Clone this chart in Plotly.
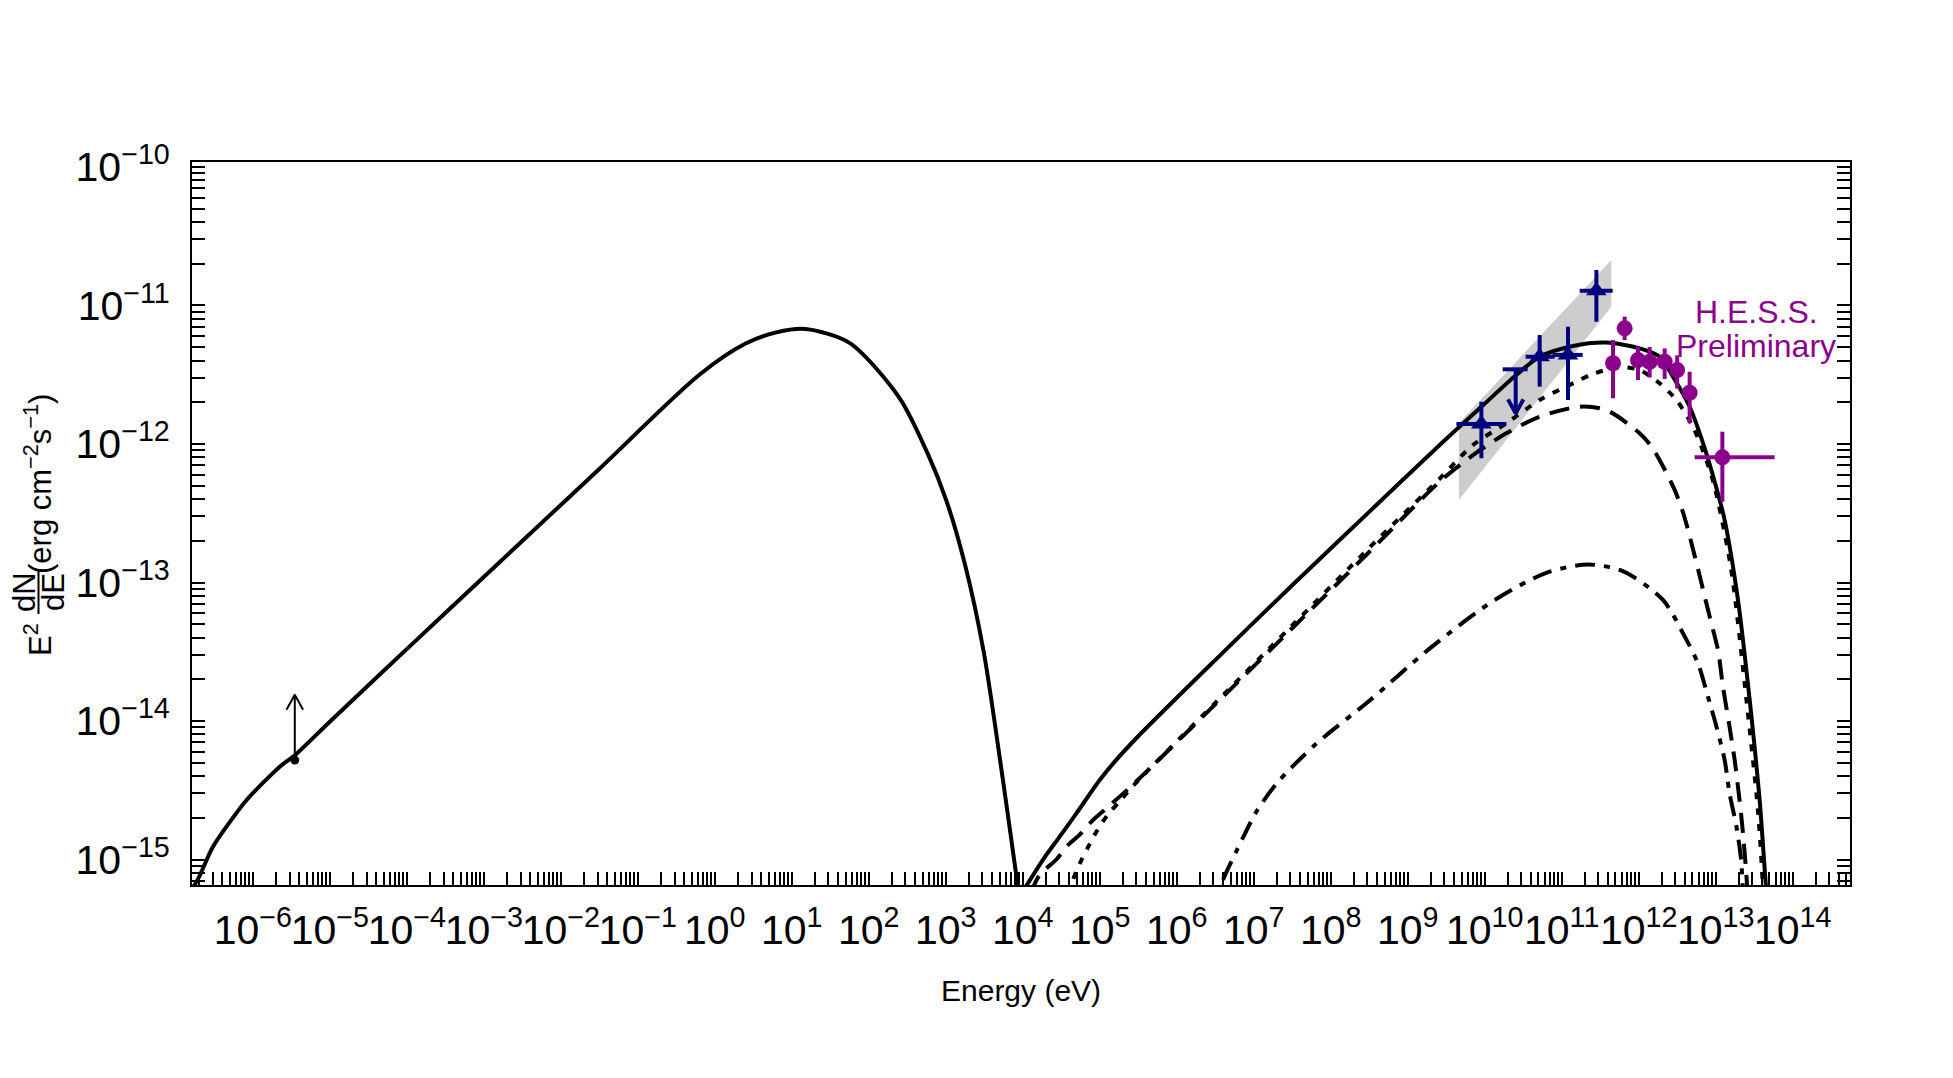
import plotly.graph_objects as go

# ---------------- data (log10 values) ----------------
# synchrotron model (solid)
sync_logE = [-6.85, -6.73, -6.52, -6.30, -6.08, -5.65, -5.45, -5.00, -4.40, -3.50,
             -2.50, -1.50, -0.20, 0.40, 0.80, 1.18, 1.75, 2.40, 2.766, 3.009, 3.25,
             3.493, 3.744, 3.94, 3.97]
sync_logF = [-15.25, -15.16, -14.91, -14.73, -14.57, -14.33, -14.245, -14.005, -13.69, -13.22,
             -12.70, -12.18, -11.50, -11.275, -11.194, -11.17, -11.27, -11.668, -12.07, -12.41,
             -12.87, -13.50, -14.43, -15.21, -15.33]

# inverse-Compton total (solid)
ic_logE = [3.98, 4.264, 4.48, 4.697, 5.00, 5.20, 5.50, 6.50, 7.50, 8.50, 9.416, 9.957,
           10.41, 10.714, 11.147, 11.58, 12.013, 12.273, 12.446, 12.662, 12.879, 13.052,
           13.117, 13.29, 13.442, 13.571, 13.65, 13.67]
ic_logF = [-15.25, -15.00, -14.835, -14.667, -14.426, -14.29, -14.11, -13.56, -13.02, -12.49,
           -12.007, -11.731, -11.502, -11.37, -11.292, -11.268, -11.31, -11.37, -11.514,
           -11.731, -12.067, -12.404, -12.549, -13.126, -13.848, -14.57, -15.17, -15.30]

# component (dashed)
dash_logE = [4.10, 4.22, 4.437, 4.567, 4.74, 4.913, 5.087, 5.43, 6.50, 7.50, 8.50, 9.416,
             9.848, 10.28, 10.714, 11.234, 11.58, 12.013, 12.18, 12.45, 12.58, 12.944,
             13.03, 13.095, 13.18, 13.247, 13.31, 13.355, 13.40, 13.42]
dash_logF = [-15.25, -15.11, -15.00, -14.907, -14.82, -14.715, -14.63, -14.46, -13.88, -13.33,
             -12.78, -12.272, -12.08, -11.923, -11.803, -11.731, -11.755, -11.923, -12.03,
             -12.31, -12.50, -13.295, -13.487, -13.752, -14.04, -14.282, -14.57, -14.81,
             -15.12, -15.30]

# component (dotted)
dot_logE = [4.60, 4.65, 4.74, 4.84, 4.957, 5.10, 5.26, 5.43, 6.50, 7.50, 8.50, 9.416, 9.848,
            10.281, 10.714, 11.147, 11.40, 11.753, 12.013, 12.273, 12.49, 12.705, 12.879,
            12.987, 13.20, 13.40, 13.55, 13.62]
dot_logF = [-15.25, -15.15, -15.03, -14.92, -14.80, -14.68, -14.58, -14.47, -13.87, -13.31,
            -12.75, -12.25, -12.007, -11.851, -11.682, -11.562, -11.495, -11.446, -11.466,
            -11.562, -11.682, -11.875, -12.116, -12.31, -12.90, -13.85, -14.65, -15.25]

# component (dash-dot)
dd_logE = [6.55, 6.60, 6.775, 6.88, 7.035, 7.30, 7.80, 8.51, 9.30, 10.12, 10.80, 11.34, 11.80,
           12.316, 12.576, 12.77, 12.90, 13.01, 13.117, 13.18, 13.27, 13.33, 13.36]
dd_logF = [-15.25, -15.15, -14.94, -14.82, -14.655, -14.45, -14.17, -13.85, -13.47, -13.13,
           -12.93, -12.87, -12.92, -13.126, -13.367, -13.583, -13.824, -14.04, -14.282, -14.52,
           -14.763, -15.00, -15.30]

# Fermi-LAT butterfly (gray band)
band_logE = [9.666, 11.645, 11.645, 9.666]
band_logF = [-11.848, -10.671, -11.009, -12.404]

# Fermi-LAT points
fermi_logE = [9.957, 10.714, 11.082, 11.451]
fermi_logE_lo = [9.633, 10.532, 10.883, 11.234]
fermi_logE_hi = [10.282, 10.909, 11.273, 11.662]
fermi_logF = [-11.856, -11.370, -11.357, -10.893]
fermi_logF_lo = [-12.103, -11.586, -11.682, -11.117]
fermi_logF_hi = [-11.695, -11.213, -11.153, -10.744]

# Fermi-LAT upper limit
ul_logE = [10.403]
ul_logE_lo = [10.234]
ul_logE_hi = [10.558]
ul_logF = [-11.461]
ul_tip_logF = [-11.778]

# H.E.S.S. points
hess_logE = [11.667, 11.818, 11.991, 12.143, 12.338, 12.500, 12.662, 13.087]
hess_logE_lo = [11.667, 11.818, 11.991, 12.143, 12.338, 12.500, 12.662, 12.727]
hess_logE_hi = [11.667, 11.818, 11.991, 12.143, 12.338, 12.500, 12.662, 13.766]
hess_logF = [-11.417, -11.165, -11.394, -11.406, -11.406, -11.466, -11.630, -12.096]
hess_logF_lo = [-11.670, -11.249, -11.538, -11.52, -11.53, -11.60, -11.851, -12.417]
hess_logF_hi = [-11.249, -11.081, -11.297, -11.30, -11.31, -11.36, -11.478, -11.911]

# radio lower limit
ll_logE = [-5.455]
ll_logF = [-14.282]
ll_tip_logF = [-13.81]

x_tick_exp = list(range(-6, 15))
y_tick_exp = list(range(-15, -9))

# ---------------- styling / layout ----------------
W, H = 1953, 1078
ML, MR, MT, MB = 192, 103, 162, 193
XR = [-6.79, 14.745]
YR = [-15.184, -9.964]
NAVY = "#00007f"
PURP = "#8b008b"
FONT = "Liberation Sans, Arial, sans-serif"

def p(v):
    return [10 ** a for a in v]

fig = go.Figure()

# gray band
fig.add_trace(go.Scatter(x=p(band_logE + band_logE[:1]), y=p(band_logF + band_logF[:1]),
                         mode="lines", fill="toself", fillcolor="rgb(205,205,205)",
                         line=dict(width=0, color="rgba(0,0,0,0)"), hoverinfo="skip"))

def curve(xs, ys, dash):
    fig.add_trace(go.Scatter(x=p(xs), y=p(ys), mode="lines",
                             line=dict(color="black", width=4, dash=dash, shape="spline",
                                       smoothing=0.8),
                             hoverinfo="skip"))

curve(sync_logE, sync_logF, "solid")
curve(dd_logE, dd_logF, "6px,9px,20px,9px")
curve(dash_logE, dash_logF, "20px,11px")
curve(dot_logE, dot_logF, "7px,9px")
curve(ic_logE, ic_logF, "solid")

# Fermi points
fx = p(fermi_logE)
fy = p(fermi_logF)
fig.add_trace(go.Scatter(
    x=fx, y=fy, mode="markers",
    marker=dict(symbol="triangle-up", size=18, color=NAVY),
    error_x=dict(type="data", symmetric=False,
                 array=[h - c for h, c in zip(p(fermi_logE_hi), fx)],
                 arrayminus=[c - l for l, c in zip(p(fermi_logE_lo), fx)],
                 color=NAVY, thickness=4, width=0),
    error_y=dict(type="data", symmetric=False,
                 array=[h - c for h, c in zip(p(fermi_logF_hi), fy)],
                 arrayminus=[c - l for l, c in zip(p(fermi_logF_lo), fy)],
                 color=NAVY, thickness=4, width=0),
    hoverinfo="skip"))

# Fermi upper limit: horizontal bar + shaft + open arrow head
for i in range(len(ul_logE)):
    fig.add_trace(go.Scatter(x=p([ul_logE_lo[i], ul_logE_hi[i]]), y=p([ul_logF[i]] * 2),
                             mode="lines", line=dict(color=NAVY, width=4), hoverinfo="skip"))
    fig.add_trace(go.Scatter(x=p([ul_logE[i]] * 2), y=p([ul_logF[i], ul_tip_logF[i]]),
                             mode="lines", line=dict(color=NAVY, width=4), hoverinfo="skip"))
    hx, hy = 0.10, 0.10
    fig.add_trace(go.Scatter(
        x=p([ul_logE[i] - hx, ul_logE[i], ul_logE[i] + hx]),
        y=p([ul_tip_logF[i] + hy, ul_tip_logF[i], ul_tip_logF[i] + hy]),
        mode="lines", line=dict(color=NAVY, width=4), hoverinfo="skip"))

# HESS points
hx_ = p(hess_logE)
hy_ = p(hess_logF)
fig.add_trace(go.Scatter(
    x=hx_, y=hy_, mode="markers",
    marker=dict(symbol="circle", size=16, color=PURP),
    error_x=dict(type="data", symmetric=False,
                 array=[h - c for h, c in zip(p(hess_logE_hi), hx_)],
                 arrayminus=[c - l for l, c in zip(p(hess_logE_lo), hx_)],
                 color=PURP, thickness=4, width=0),
    error_y=dict(type="data", symmetric=False,
                 array=[h - c for h, c in zip(p(hess_logF_hi), hy_)],
                 arrayminus=[c - l for l, c in zip(p(hess_logF_lo), hy_)],
                 color=PURP, thickness=4, width=0),
    hoverinfo="skip"))

# radio lower limit
fig.add_trace(go.Scatter(x=p(ll_logE), y=p(ll_logF), mode="markers",
                         marker=dict(size=9, color="black"), hoverinfo="skip"))
fig.add_trace(go.Scatter(x=p(ll_logE * 2), y=p([ll_logF[0], ll_tip_logF[0]]), mode="lines",
                         line=dict(color="black", width=2), hoverinfo="skip"))
fig.add_trace(go.Scatter(
    x=p([ll_logE[0] - 0.108, ll_logE[0], ll_logE[0] + 0.108]),
    y=p([ll_tip_logF[0] - 0.108, ll_tip_logF[0], ll_tip_logF[0] - 0.108]),
    mode="lines", line=dict(color="black", width=2), hoverinfo="skip"))

# ticks
def sup(e):
    return "10<sup>" + (str(e) if e >= 0 else "\u2212" + str(-e)) + "</sup>"

x_minor = [m * 10 ** e for e in range(-7, 15) for m in range(2, 10)]
y_minor = [m * 10 ** e for e in range(-16, -9) for m in range(2, 10)]

axis_common = dict(type="log", showgrid=False, zeroline=False, showline=True,
                   linecolor="black", linewidth=2, ticks="inside", ticklen=13,
                   tickwidth=1.5, tickcolor="black", tickangle=0,
                   tickfont=dict(family=FONT, size=41, color="black"))

fig.update_xaxes(**axis_common, range=XR, mirror=True, ticklabelstandoff=8,
                 tickmode="array", tickvals=[10 ** e for e in x_tick_exp],
                 ticktext=[sup(e) for e in x_tick_exp],
                 minor=dict(tickmode="array", tickvals=x_minor, ticks="inside",
                            ticklen=13, tickwidth=1.5, tickcolor="black", showgrid=False))
fig.update_yaxes(**axis_common, range=YR, mirror="ticks", ticklabelstandoff=12,
                 tickmode="array", tickvals=[10 ** e for e in y_tick_exp],
                 ticktext=[sup(e) for e in y_tick_exp],
                 minor=dict(tickmode="array", tickvals=y_minor, ticks="inside",
                            ticklen=13, tickwidth=1.5, tickcolor="black", showgrid=False))

def px2paper(x, y):
    return (x - ML) / (W - ML - MR), (H - MB - y) / (H - MT - MB)

ann = []
def add_text(text, x, y, size, color="black", angle=0, xanchor="center", yanchor="middle"):
    px_, py_ = px2paper(x, y)
    ann.append(dict(text=text, x=px_, y=py_, xref="paper", yref="paper", showarrow=False,
                    textangle=angle, xanchor=xanchor, yanchor=yanchor,
                    font=dict(family=FONT, size=size, color=color)))

add_text("H.E.S.S.", 1756, 312, 32, PURP)
add_text("Preliminary", 1756, 346, 32, PURP)

add_text("Energy (eV)", 1021, 990, 30)

# y-axis title: E^2 dN/dE (erg cm^-2 s^-1)
add_text("E<sup>2</sup>", 38, 640, 31, angle=-90)
add_text("dN", 24, 592, 31, angle=-90)
add_text("dE", 53, 592, 31, angle=-90)
add_text("(erg cm<sup>\u22122</sup>s<sup>\u22121</sup>)", 38, 484, 31, angle=-90)

x0, y0 = px2paper(38.5, 570)
x1, y1 = px2paper(38.5, 614)
shapes = [dict(type="line", xref="paper", yref="paper", x0=x0, x1=x1, y0=y0, y1=y1,
               line=dict(color="black", width=2))]

fig.update_layout(width=W, height=H, margin=dict(l=ML, r=MR, t=MT, b=MB),
                  paper_bgcolor="white", plot_bgcolor="white", showlegend=False,
                  annotations=ann, shapes=shapes)

fig.write_html("out.html")
